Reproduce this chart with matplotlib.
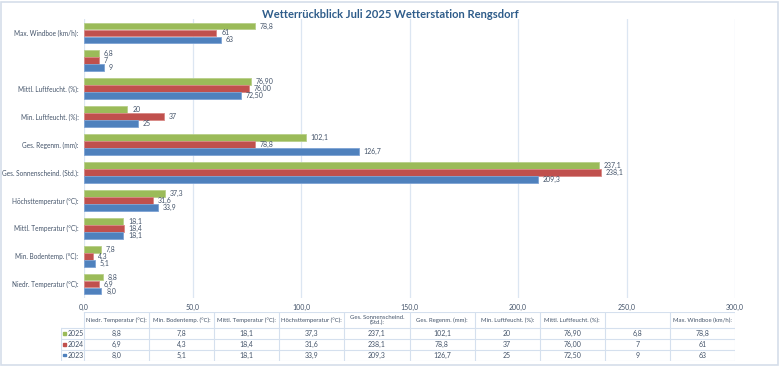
import matplotlib
matplotlib.use("Agg")
import matplotlib.pyplot as plt
from matplotlib.patches import Rectangle
from matplotlib.lines import Line2D

categories = ["Niedr. Temperatur (°C):", "Min. Bodentemp. (°C):", "Mittl. Temperatur (°C):",
              "Höchsttemperatur (°C):", "Ges. Sonnenscheind. (Std.):", "Ges. Regenm. (mm):",
              "Min. Luftfeucht. (%):", "Mittl. Luftfeucht. (%):", "", "Max. Windboe (km/h):"]
table_headers = ["Niedr. Temperatur (°C):", "Min. Bodentemp. (°C):", "Mittl. Temperatur (°C):",
                 "Höchsttemperatur (°C):", "Ges. Sonnenscheind.\n(Std.):", "Ges. Regenm. (mm):",
                 "Min. Luftfeucht. (%):", "Mittl. Luftfeucht. (%):", "", "Max. Windboe (km/h):"]
years = ["2025", "2024", "2023"]
v2025 = [8.8, 7.8, 18.1, 37.3, 237.1, 102.1, 20, 76.90, 6.8, 78.8]
v2024 = [6.9, 4.3, 18.4, 31.6, 238.1, 78.8, 37, 76.00, 7, 61]
v2023 = [8.0, 5.1, 18.1, 33.9, 209.3, 126.7, 25, 72.50, 9, 63]
l2025 = ["8,8", "7,8", "18,1", "37,3", "237,1", "102,1", "20", "76,90", "6,8", "78,8"]
l2024 = ["6,9", "4,3", "18,4", "31,6", "238,1", "78,8", "37", "76,00", "7", "61"]
l2023 = ["8,0", "5,1", "18,1", "33,9", "209,3", "126,7", "25", "72,50", "9", "63"]
xticks = [0, 50, 100, 150, 200, 250, 300]
xticklabels = ["0,0", "50,0", "100,0", "150,0", "200,0", "250,0", "300,0"]

colors = {"2025": "#9BBB59", "2024": "#C0504D", "2023": "#4F81BD"}
edges = {"2025": "#B8D08A", "2024": "#D98885", "2023": "#7EA3D4"}
txt = "#44546A"
grid = "#DCE6F2"

plt.rcParams["font.family"] = ["Lato", "DejaVu Sans"]

W, H = 780, 366
fig = plt.figure(figsize=(W / 100, H / 100), dpi=100)
fig.patch.set_facecolor("white")
fig.add_artist(Rectangle((1 / W, 1 / H), (W - 3) / W, (H - 3) / H, transform=fig.transFigure,
                         fill=False, edgecolor="#D5DEEA", linewidth=1.2))

L, R, T, B = 84, 735, 19, 298
ax = fig.add_axes([L / W, 1 - B / H, (R - L) / W, (B - T) / H])
ax.set_xlim(0, 300)
ax.set_ylim(-0.5, len(categories) - 0.5)
for s in ax.spines.values():
    s.set_visible(False)
ax.set_xticks(xticks)
ax.set_xticklabels(xticklabels, fontsize=5.0, color=txt)
ax.tick_params(axis="x", length=0, pad=4)
ax.grid(axis="x", color=grid, linewidth=0.9)
ax.set_axisbelow(True)
ax.set_yticks(range(len(categories)))
ax.set_yticklabels(categories, fontsize=4.7, color=txt)
ax.tick_params(axis="y", length=0, pad=4)

h = 0.25
series = [("2025", v2025, l2025, h), ("2024", v2024, l2024, 0.0), ("2023", v2023, l2023, -h)]
ys = list(range(len(categories)))
for yr, vals, labs, off in series:
    pos = [y + off for y in ys]
    ax.barh(pos, vals, height=h * 0.97, color=colors[yr], edgecolor=edges[yr], linewidth=0.6)
    for p, v, lab in zip(pos, vals, labs):
        ax.text(v + 2.2, p, lab, va="center", ha="left", fontsize=5.0, color=txt)

fig.text(0.5 * (264 + 516) / W, 1 - 14 / H, "Wetterrückblick Juli 2025 Wetterstation Rengsdorf",
         ha="center", va="center", fontsize=8, fontweight="bold", color="#2E5C8A")

tax = fig.add_axes([61 / W, 1 - 361 / H, (R - 61) / W, (361 - 312) / H])
unit = (R - L) / 300.0
x0 = -(L - 61) / unit
tax.set_xlim(x0, 300)
tax.set_ylim(361, 312)
tax.axis("off")
colw = 30
row_edges = [312, 328, 339, 349.7, 360.5]
lc = "#D5E0EE"
tax.add_line(Line2D([0, 300], [row_edges[0]] * 2, color=lc, lw=0.8))
for y in row_edges[1:]:
    tax.add_line(Line2D([x0, 300], [y, y], color=lc, lw=0.8))
for i in range(len(categories) + 1):
    xx = i * colw
    tax.add_line(Line2D([xx, xx], [row_edges[0], row_edges[-1]], color=lc, lw=0.8))
tax.add_line(Line2D([x0, x0], [row_edges[1], row_edges[-1]], color=lc, lw=0.8))

for i, hd in enumerate(table_headers):
    tax.text(i * colw + colw / 2, (row_edges[0] + row_edges[1]) / 2, hd, ha="center", va="center",
             fontsize=4.3, color=txt, linespacing=1.1)
for r, (yr, vals, labs, off) in enumerate(series):
    yc = (row_edges[r + 1] + row_edges[r + 2]) / 2
    tax.add_patch(Rectangle((x0 + 0.9, yc - 1.3), 1.6, 2.6, color=colors[yr]))
    tax.text(x0 + 3.0, yc, yr, ha="left", va="center", fontsize=5.0, color=txt)
    for i, lab in enumerate(labs):
        tax.text(i * colw + colw / 2, yc, lab, ha="center", va="center", fontsize=5.0, color=txt)

fig.savefig("out.png", dpi=100, facecolor="white")
